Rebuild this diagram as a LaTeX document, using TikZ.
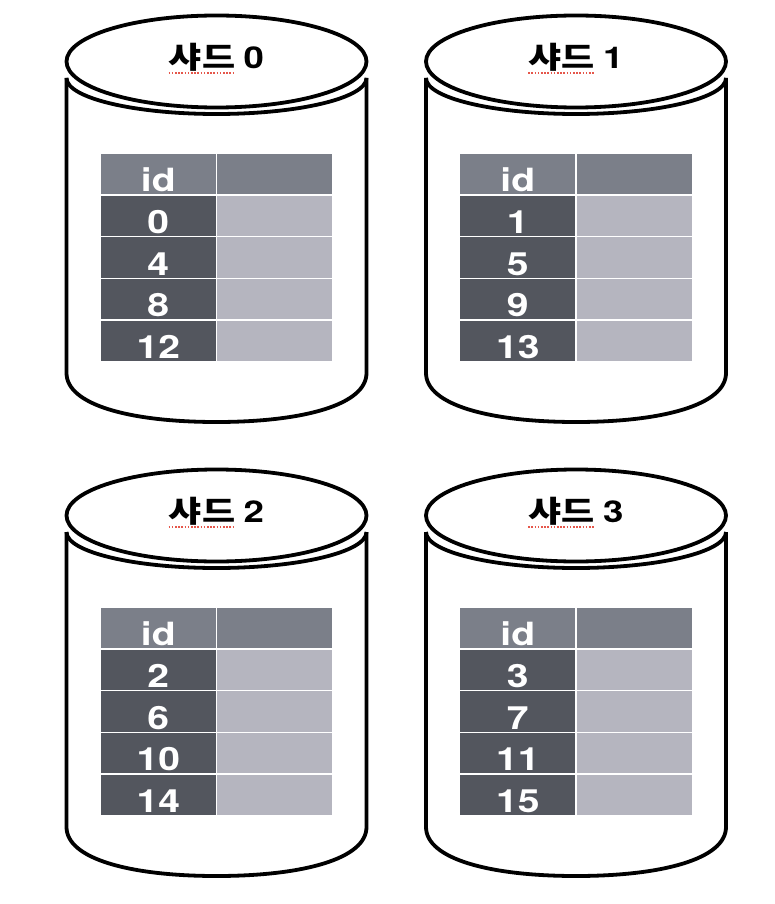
\documentclass[tikz,border=0pt]{standalone}
\usepackage{fontspec}
\usetikzlibrary{positioning}
\newfontfamily\kofont[FakeStretch=1.2]{Noto Sans CJK KR}
\newfontfamily\numfont[FakeStretch=1.22]{TeX Gyre Heros}
\definecolor{hdrgray}{HTML}{7B7F89}
\definecolor{idgray}{HTML}{53565E}
\definecolor{valgray}{HTML}{B5B5BF}
\definecolor{spellred}{HTML}{E5574B}
\tikzset{
  cyl/.style={line width=3.8pt, line join=round},
  cell/.style={draw=white, line width=1.5pt, minimum width=116.5pt, minimum height=41.8pt,
               inner sep=0pt, outer sep=0pt, text height=35pt, text depth=0pt, text=white,
               font=\numfont\bfseries\fontsize{32}{32}\selectfont},
  hdr/.style={cell, fill=hdrgray},
  idcell/.style={cell, fill=idgray},
  valcell/.style={cell, fill=valgray},
  shardname/.style={inner sep=0pt, font=\kofont\bfseries\fontsize{30}{30}\selectfont},
  shardnum/.style={inner sep=0pt, font=\numfont\bfseries\fontsize{30}{30}\selectfont},
  spell/.style={spellred, line width=1.7pt, dash pattern=on 1.6pt off 1.6pt}
}

\begin{document}
\begin{tikzpicture}[x=1pt, y=-1pt]
\useasboundingbox[fill=white] (0,0) rectangle (774,904);

\foreach \cx/\dy/\s/\a/\b/\c/\d in {216.5/0/0/0/4/8/12, 576/0/1/1/5/9/13,
                                    216.5/454/2/2/6/10/14, 576/454/3/3/7/11/15}{
  % cylinder
  \draw[cyl] (\cx,{61.5+\dy}) ellipse[x radius=150, y radius=46];
  \draw[cyl] ({\cx-150},{78+\dy}) arc[start angle=180, end angle=0, x radius=150, y radius=36];
  \draw[cyl] ({\cx-150},{78+\dy}) -- ({\cx-150},{373+\dy})
    .. controls ({\cx-150},{405+\dy}) and ({\cx-86},{422+\dy}) .. (\cx,{422+\dy})
    .. controls ({\cx+86},{422+\dy}) and ({\cx+150},{405+\dy}) .. ({\cx+150},{373+\dy})
    -- ({\cx+150},{78+\dy});

  % shard name
  \node[shardname] (k\s) at ({\cx-14.5},{57+\dy}) {샤드};
  \node[shardnum, base right=8pt of k\s] (n\s) {\s};
  \draw[spell] ([yshift=-1.5pt]k\s.south west) -- ([yshift=-1.5pt]k\s.south east);

  % table
  \node[hdr] (h\s) at ({\cx-58.25},{173.9+\dy}) {id};
  \node[hdr, right=0pt of h\s] (hv\s) {};
  \foreach \v [count=\i] in {\a,\b,\c,\d}{
    \node[idcell] (r\s\i) at ({\cx-58.25},{173.9+41.8*\i+\dy}) {\v};
    \node[valcell, right=0pt of r\s\i] (v\s\i) {};
  }
}
\end{tikzpicture}
\end{document}
